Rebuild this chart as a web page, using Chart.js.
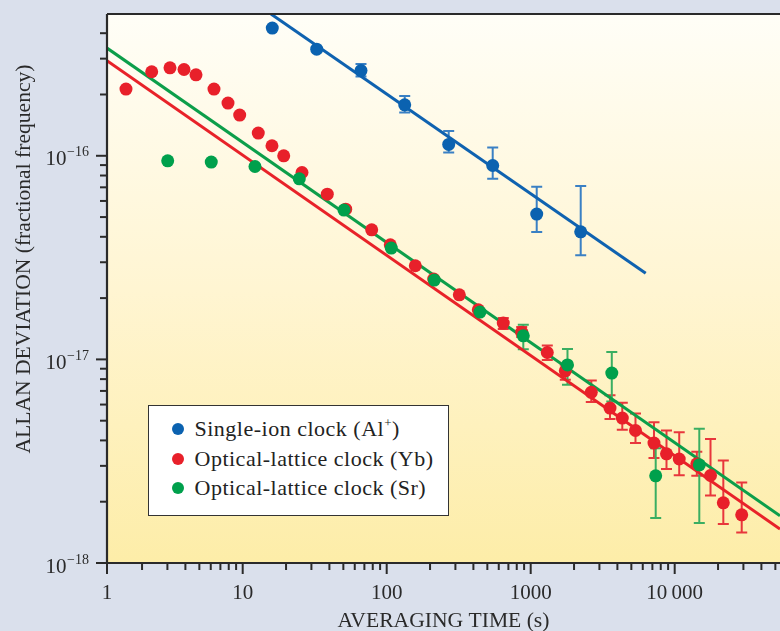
<!DOCTYPE html>
<html><head><meta charset="utf-8">
<script src="https://cdn.jsdelivr.net/npm/chart.js@4.4.0/dist/chart.umd.min.js"></script>
<style>
html,body{margin:0;padding:0;background:rgb(218,224,236);}
#wrap{position:relative;width:780px;height:631px;overflow:hidden;}
canvas{display:block;}
#legend{position:absolute;left:148px;top:405px;width:301px;height:111px;background:#fff;border:1.5px solid #333;box-sizing:border-box;font-family:"Liberation Serif",serif;font-size:22px;color:#222;letter-spacing:0.5px;}
.row{position:absolute;left:0;height:30px;line-height:30px;white-space:nowrap;}
.dot{position:absolute;left:22.5px;top:9px;width:12px;height:12px;border-radius:50%;}
.txt{position:absolute;left:45.5px;top:0;}
sup{font-size:13px;vertical-align:0;position:relative;top:-9px;line-height:0;}
</style></head>
<body>
<div id="wrap">
<canvas id="c" width="780" height="631"></canvas>
<div id="legend">
  <div class="row" style="top:8px"><span class="dot" style="background:#0b62b0"></span><span class="txt">Single-ion clock (Al<sup>+</sup>)</span></div>
  <div class="row" style="top:38px"><span class="dot" style="background:#e8202a"></span><span class="txt">Optical-lattice clock (Yb)</span></div>
  <div class="row" style="top:67px"><span class="dot" style="background:#00a04c"></span><span class="txt">Optical-lattice clock (Sr)</span></div>
</div>
</div>
<script>
// ---- axis ranges and tick labels ----
const X_MIN = 1.142, X_MAX = 53860;
const Y_MIN = 1e-18, Y_MAX = 4.97e-16;
const xMajorTicks = [1, 10, 100, 1000, 10000];
const xTickLabels = ['1', '10', '100', '1000', '10\u2009000'];
const yMajorTicks = [1e-18, 1e-17, 1e-16];
const yTickExps = ['\u221218', '\u221217', '\u221216'];
const xTitle = 'AVERAGING TIME (s)';
const yTitle = 'ALLAN DEVIATION (fractional frequency)';

// ---- Single-ion clock (Al+) ----
const blueX = [16.05, 32.66, 66.3, 133.4, 269.5, 544.7, 1101, 2225];
const blueY = [4.24e-16, 3.34e-16, 2.62e-16, 1.78e-16, 1.137e-16, 8.96e-17, 5.17e-17, 4.23e-17];
const blueLo = [null, null, 2.45e-16, 1.63e-16, 1.038e-16, 7.71e-17, 4.22e-17, 3.25e-17];
const blueHi = [null, null, 2.82e-16, 1.965e-16, 1.322e-16, 1.099e-16, 7.04e-17, 7.10e-17];
const blueFitX = [15.72, 6290];
const blueFitY = [4.97e-16, 2.65e-17];

// ---- Optical-lattice clock (Yb) ----
const redX = [1.547, 2.334, 3.127, 3.912, 4.739, 6.318, 7.906, 9.532, 12.83, 15.97, 19.27, 25.81, 38.68, 51.92, 78.67, 105.9, 158, 212.1, 319.3, 432.6, 645, 866, 1304, 1739, 2635, 3554, 4326, 5343, 7181, 8771, 10750, 14240, 17730, 21760, 29200];
const redY = [2.126e-16, 2.586e-16, 2.705e-16, 2.654e-16, 2.499e-16, 2.126e-16, 1.815e-16, 1.585e-16, 1.293e-16, 1.12e-16, 1.0e-16, 8.28e-17, 6.48e-17, 5.47e-17, 4.33e-17, 3.655e-17, 2.883e-17, 2.48e-17, 2.076e-17, 1.752e-17, 1.508e-17, 1.36e-17, 1.081e-17, 8.79e-18, 6.89e-18, 5.765e-18, 5.148e-18, 4.475e-18, 3.88e-18, 3.438e-18, 3.242e-18, 3.07e-18, 2.69e-18, 1.975e-18, 1.725e-18];
const redLo = [null, null, null, null, null, null, null, null, null, null, null, null, null, null, null, null, null, null, null, null, 1.409e-17, 1.287e-17, 9.92e-18, 7.94e-18, 6.17e-18, 5.09e-18, 4.51e-18, 3.88e-18, 3.275e-18, 2.892e-18, 2.696e-18, 2.681e-18, 2.143e-18, 1.553e-18, 1.412e-18];
const redHi = [null, null, null, null, null, null, null, null, null, null, null, null, null, null, null, null, null, null, null, null, 1.596e-17, 1.441e-17, 1.170e-17, 9.41e-18, 7.88e-18, 6.66e-18, 6.12e-18, 5.42e-18, 4.91e-18, 4.475e-18, 4.385e-18, 3.517e-18, 4.06e-18, 3.184e-18, 2.482e-18];
const redFitX = [1.142, 53860];
const redFitY = [2.93e-16, 1.467e-18];

// ---- Optical-lattice clock (Sr) ----
const greenX = [3.014, 6.05, 12.17, 24.72, 50.52, 107.6, 214.1, 444.5, 888.5, 1801, 3657, 7381, 14820];
const greenY = [9.45e-17, 9.31e-17, 8.86e-17, 7.71e-17, 5.41e-17, 3.52e-17, 2.452e-17, 1.707e-17, 1.306e-17, 9.39e-18, 8.57e-18, 2.68e-18, 3.036e-18];
const greenLo = [null, null, null, null, null, null, null, null, 1.121e-17, 7.50e-18, 6.21e-18, 1.662e-18, 1.57e-18];
const greenHi = [null, null, null, null, null, null, null, null, 1.479e-17, 1.125e-17, 1.086e-17, 3.666e-18, 4.56e-18];
const greenFitX = [1.142, 53860];
const greenFitY = [3.38e-16, 1.705e-18];

const pts = (xs, ys) => xs.map((x, i) => ({x: x, y: ys[i]}));

const errSeries = [
  {x: blueX, lo: blueLo, hi: blueHi, color: '#3a80c4'},
  {x: redX, lo: redLo, hi: redHi, color: '#e8363c'},
  {x: greenX, lo: greenLo, hi: greenHi, color: '#3aae62'}
];

const FONT = '"Liberation Serif", "Times New Roman", serif';
const INK = '#2a2a2a';

const decor = {
  id: 'decor',
  beforeDraw(chart) {
    const {ctx, chartArea: a} = chart;
    const g = ctx.createLinearGradient(0, a.top, 0, a.bottom);
    g.addColorStop(0, '#fffef7');
    g.addColorStop(0.5, '#fff5d2');
    g.addColorStop(1, '#fdeda8');
    ctx.save();
    ctx.fillStyle = g;
    ctx.fillRect(a.left, a.top, a.right - a.left, a.bottom - a.top);
    ctx.restore();
  },
  beforeDatasetsDraw(chart) {
    const {ctx, chartArea: a} = chart;
    const xs = chart.scales.x, ys = chart.scales.y;
    ctx.save();
    ctx.beginPath();
    ctx.rect(a.left, a.top, a.right - a.left, a.bottom - a.top);
    ctx.clip();
    ctx.lineWidth = 2;
    errSeries.forEach(s => {
      ctx.strokeStyle = s.color;
      s.x.forEach((xv, i) => {
        if (s.lo[i] == null) return;
        const px = xs.getPixelForValue(xv);
        const p1 = ys.getPixelForValue(s.lo[i]);
        const p2 = ys.getPixelForValue(s.hi[i]);
        ctx.beginPath();
        ctx.moveTo(px, p1); ctx.lineTo(px, p2);
        ctx.moveTo(px - 5.5, p1); ctx.lineTo(px + 5.5, p1);
        ctx.moveTo(px - 5.5, p2); ctx.lineTo(px + 5.5, p2);
        ctx.stroke();
      });
    });
    ctx.restore();
  },
  afterDraw(chart) {
    const {ctx, chartArea: a} = chart;
    const xs = chart.scales.x, ys = chart.scales.y;
    ctx.save();
    ctx.strokeStyle = INK;
    ctx.fillStyle = INK;
    // axis frame lines
    ctx.lineWidth = 2.2;
    ctx.beginPath();
    ctx.moveTo(a.left, a.top); ctx.lineTo(a.right, a.top);
    ctx.moveTo(a.left, a.top); ctx.lineTo(a.left, a.bottom);
    ctx.lineTo(a.right, a.bottom);
    ctx.stroke();
    // y ticks
    ctx.lineWidth = 2;
    for (let e = -18; e <= -16; e++) {
      for (let m = 1; m <= 9; m++) {
        const v = m * Math.pow(10, e);
        if (v < Y_MIN * 0.999 || v > Y_MAX) continue;
        const py = ys.getPixelForValue(v);
        const len = m === 1 ? 11 : 7;
        ctx.beginPath();
        ctx.moveTo(a.left - len, py); ctx.lineTo(a.left, py);
        ctx.stroke();
      }
    }
    // x ticks
    for (let e = 0; e <= 4; e++) {
      for (let m = 1; m <= 9; m++) {
        const v = m * Math.pow(10, e);
        if (v > X_MAX) continue;
        let px;
        if (v < X_MIN) { if (m === 1) px = a.left; else continue; }
        else px = xs.getPixelForValue(v);
        const len = m === 1 ? 11 : 7;
        ctx.beginPath();
        ctx.moveTo(px, a.bottom); ctx.lineTo(px, a.bottom + len);
        ctx.stroke();
      }
    }
    // x tick labels
    ctx.font = '21px ' + FONT;
    ctx.textAlign = 'center';
    ctx.textBaseline = 'alphabetic';
    xMajorTicks.forEach((v, i) => {
      const px = v < X_MIN ? a.left : xs.getPixelForValue(v);
      ctx.fillText(xTickLabels[i], px, 599);
    });
    // y tick labels: 10 with superscript exponent
    yMajorTicks.forEach((v, i) => {
      const py = ys.getPixelForValue(v);
      ctx.font = '14px ' + FONT;
      const we = ctx.measureText(yTickExps[i]).width;
      const right = 89;
      ctx.textAlign = 'left';
      ctx.fillText(yTickExps[i], right - we, py + 0.5);
      ctx.font = '21px ' + FONT;
      ctx.textAlign = 'right';
      ctx.fillText('10', right - we - 0.5, py + 9.5);
    });
    // axis titles
    ctx.font = '21.6px ' + FONT;
    ctx.textAlign = 'center';
    ctx.fillText(xTitle, 443.5, 627);
    ctx.translate(30, 259);
    ctx.rotate(-Math.PI / 2);
    ctx.fillText(yTitle, 0, 0);
    ctx.restore();
  }
};

new Chart(document.getElementById('c'), {
  type: 'scatter',
  data: {
    datasets: [
      {label: 'Al+ fit', data: pts(blueFitX, blueFitY), showLine: true, borderColor: '#0f62b0', borderWidth: 3, pointRadius: 0, order: 6},
      {label: 'Yb fit', data: pts(redFitX, redFitY), showLine: true, borderColor: '#e82229', borderWidth: 3, pointRadius: 0, order: 5},
      {label: 'Sr fit', data: pts(greenFitX, greenFitY), showLine: true, borderColor: '#0c9e4a', borderWidth: 3, pointRadius: 0, order: 4},
      {label: 'Optical-lattice clock (Yb)', data: pts(redX, redY), backgroundColor: '#e8202a', borderWidth: 0, pointRadius: 6.5, order: 3},
      {label: 'Optical-lattice clock (Sr)', data: pts(greenX, greenY), backgroundColor: '#00a04c', borderWidth: 0, pointRadius: 6.5, order: 2},
      {label: 'Single-ion clock (Al+)', data: pts(blueX, blueY), backgroundColor: '#0b62b0', borderWidth: 0, pointRadius: 6.5, order: 1}
    ]
  },
  options: {
    responsive: false,
    animation: false,
    devicePixelRatio: 1,
    layout: {autoPadding: false, padding: {top: 14, left: 0, right: 0, bottom: 0}},
    plugins: {legend: {display: false}, tooltip: {enabled: false}},
    scales: {
      x: {type: 'logarithmic', min: X_MIN, max: X_MAX, offset: false,
          ticks: {display: false}, grid: {display: false}, border: {display: false},
          afterFit(s) { s.height = 68; s.paddingLeft = 0; s.paddingRight = 0; }},
      y: {type: 'logarithmic', min: Y_MIN, max: Y_MAX, offset: false,
          ticks: {display: false}, grid: {display: false}, border: {display: false},
          afterFit(s) { s.width = 107; s.paddingTop = 0; s.paddingBottom = 0; }}
    }
  },
  plugins: [decor]
});
</script>
</body></html>
